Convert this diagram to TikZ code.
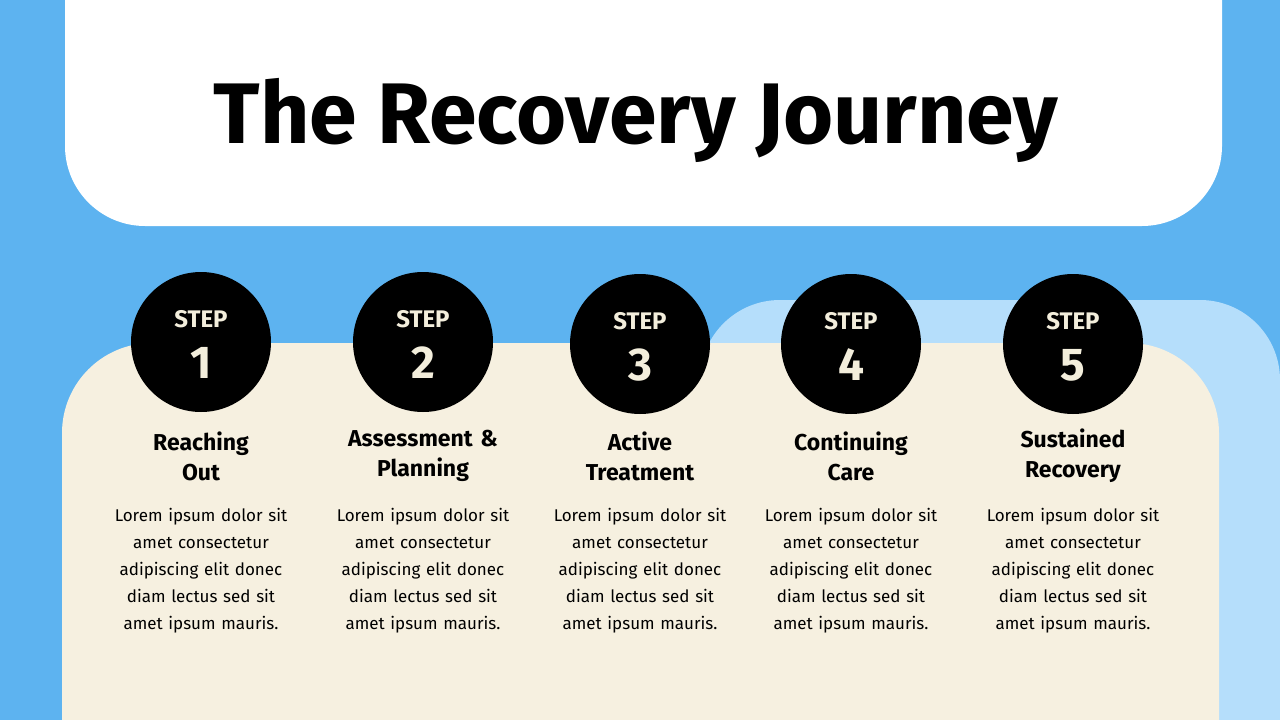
\documentclass[tikz,border=0pt]{standalone}
\usepackage{fontspec}
\setmainfont{Fira Sans}
\definecolor{bgblue}{HTML}{5DB3F0}
\definecolor{lightblue}{HTML}{B5DEFB}
\definecolor{cream}{HTML}{F6F0E0}
\definecolor{stepwhite}{HTML}{F3EEDC}
\begin{document}
\begin{tikzpicture}[x=1pt,y=-1pt,
  stepcircle/.style={circle,fill=black,minimum size=140pt,inner sep=0pt},
  steptitle/.style={font=\fontsize{23}{30}\selectfont\bfseries,align=center,text width=200pt},
  stepbody/.style={font=\fontsize{17}{27}\selectfont,align=center,text width=200pt}]
\useasboundingbox (0,0) rectangle (1280,720);
\fill[bgblue] (0,0) rectangle (1280,720);
\fill[white,rounded corners=80pt] (65,-200) rectangle (1222,226);
\fill[lightblue,rounded corners=80pt] (700,300) rectangle (1280,900);
\fill[cream,rounded corners=90pt] (62,343) rectangle (1219,900);
\node (title) at (636,120) {\fontsize{86}{100}\selectfont\bfseries The Recovery Journey};
\foreach \i/\x/\y/\t in {1/201/342/{Reaching\\Out},2/423/342/{Assessment \&\\Planning},3/640/344/{Active\\Treatment},4/851/344/{Continuing\\Care},5/1073/344/{Sustained\\Recovery}}{
  \node[stepcircle] (c\i) at (\x,\y) {};
  \node[text=stepwhite,font=\fontsize{24}{24}\selectfont\bfseries] (s\i) at (\x,\y-23) {STEP};
  \node[text=stepwhite,font=\fontsize{46}{46}\selectfont\bfseries] (n\i) at (\x,\y+21) {\i};
  \node[steptitle] (t\i) at (\x,456) {\t};
  \node[stepbody] (b\i) at (\x,571) {Lorem ipsum dolor sit\\amet consectetur\\adipiscing elit donec\\diam lectus sed sit\\amet ipsum mauris.};
}
\end{tikzpicture}
\end{document}
